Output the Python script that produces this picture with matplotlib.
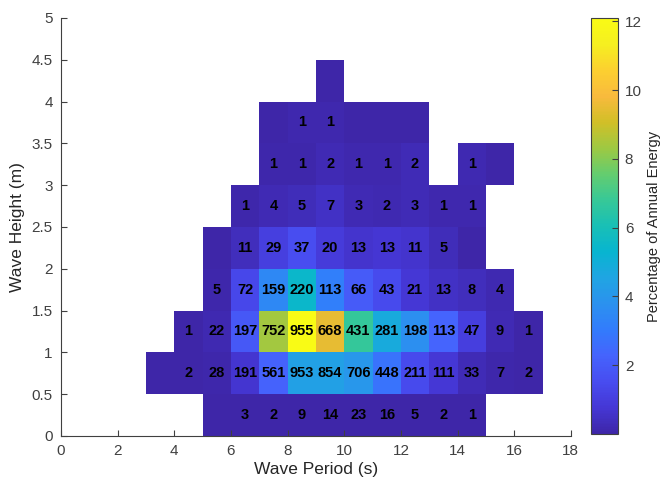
import matplotlib
matplotlib.use("Agg")
import matplotlib.pyplot as plt
import numpy as np
from matplotlib.colors import LinearSegmentedColormap


# bin edges of the scatter table
PERIOD_EDGES = np.arange(0, 19, 1)        # wave period, s
HEIGHT_EDGES = np.arange(0, 5.01, 0.5)    # wave height, m

# one entry per height bin (bottom to top): first period bin of the row,
# number of occurrences and % of annual energy (0 = shaded cell without count,
# nan = empty cell)
row_start = [5, 3, 4, 5, 5, 6, 7, 7, 9]
row_counts = [
    [0, 3, 2, 9, 14, 23, 16, 5, 2, 1],
    [0, 2, 28, 191, 561, 953, 854, 706, 448, 211, 111, 33, 7, 2],
    [1, 22, 197, 752, 955, 668, 431, 281, 198, 113, 47, 9, 1],
    [5, 72, 159, 220, 113, 66, 43, 21, 13, 8, 4],
    [0, 11, 29, 37, 20, 13, 13, 11, 5, 0],
    [1, 4, 5, 7, 3, 2, 3, 1, 1],
    [1, 1, 2, 1, 1, 2, 0, 1, 0],
    [0, 1, 1, 0, 0, 0],
    [0],
]
row_energy = [
    [0, 0.001, 0.001, 0.005, 0.008, 0.014, 0.011, 0.004, 0.002, 0.001],
    [0, 0.005, 0.08, 0.67, 2.26, 4.35, 4.35, 3.98, 2.76, 1.42, 0.80, 0.26, 0.06, 0.02],
    [0.01, 0.18, 1.91, 8.41, 12.10, 9.46, 6.74, 4.82, 3.69, 2.27, 1.02, 0.21, 0.03],
    [0.08, 1.37, 3.48, 5.46, 3.14, 2.02, 1.44, 0.77, 0.51, 0.34, 0.18],
    [0, 0.35, 1.05, 1.52, 0.92, 0.66, 0.72, 0.66, 0.33, 0],
    [0.05, 0.22, 0.31, 0.48, 0.23, 0.17, 0.27, 0.10, 0.10],
    [0.08, 0.09, 0.19, 0.11, 0.12, 0.25, np.nan, 0.15, 0],
    [0, 0.11, 0.13, 0, 0, 0],
    [0],
]

# MATLAB parula, sampled
PARULA = [
    (0.2422, 0.1504, 0.6603), (0.2706, 0.2147, 0.8364), (0.2813, 0.3006, 0.9414),
    (0.2699, 0.3892, 0.9906), (0.1963, 0.4847, 0.9892), (0.1687, 0.5703, 0.9359),
    (0.1248, 0.6459, 0.8883), (0.0297, 0.7082, 0.8163), (0.0964, 0.7500, 0.7120),
    (0.2161, 0.7843, 0.5923), (0.3909, 0.8029, 0.4354), (0.6174, 0.7876, 0.2612),
    (0.8203, 0.7498, 0.1535), (0.9728, 0.7298, 0.2394), (0.9892, 0.8136, 0.1885),
    (0.9628, 0.9373, 0.1265), (0.9769, 0.9839, 0.0805),
]
TEXT_GREY = "#404040"

plt.rcParams["font.family"] = ["Liberation Sans", "DejaVu Sans"]


def build_grid():
    n_rows = len(HEIGHT_EDGES) - 1
    n_cols = len(PERIOD_EDGES) - 1
    energy = np.full((n_rows, n_cols), np.nan)
    counts = np.zeros((n_rows, n_cols), dtype=int)
    for i, (start, cnt, eng) in enumerate(zip(row_start, row_counts, row_energy)):
        energy[i, start:start + len(eng)] = eng
        counts[i, start:start + len(cnt)] = cnt
    return energy, counts


def main() -> None:
    energy, counts = build_grid()
    parula = LinearSegmentedColormap.from_list("parula", PARULA)

    fig = plt.figure(figsize=(6.63, 4.86), dpi=100)
    ax = fig.add_axes([0.092, 0.103, 0.769, 0.860])
    mesh = ax.pcolormesh(PERIOD_EDGES, HEIGHT_EDGES, np.ma.masked_invalid(energy),
                         cmap=parula, vmin=0, vmax=np.nanmax(energy))

    t_mid = (PERIOD_EDGES[:-1] + PERIOD_EDGES[1:]) / 2
    h_mid = (HEIGHT_EDGES[:-1] + HEIGHT_EDGES[1:]) / 2
    for i in range(counts.shape[0]):
        for j in range(counts.shape[1]):
            if counts[i, j] > 0:
                ax.text(t_mid[j], h_mid[i], str(counts[i, j]), ha="center", va="center",
                        fontsize=10.5, weight="bold", color="black")

    ax.set_xlim(0, 18)
    ax.set_ylim(0, 5)
    ax.set_xticks(np.arange(0, 19, 2))
    ax.set_yticks(np.arange(0, 5.01, 0.5))
    ax.set_yticklabels(["0", "0.5", "1", "1.5", "2", "2.5", "3", "3.5", "4", "4.5", "5"])
    ax.tick_params(direction="in", length=4, labelsize=11, colors=TEXT_GREY, pad=6)
    for side in ("top", "right"):
        ax.spines[side].set_visible(False)
    for side in ("left", "bottom"):
        ax.spines[side].set_color(TEXT_GREY)
    ax.set_xlabel("Wave Period (s)", fontsize=12.5, color="#262626", labelpad=3)
    ax.set_ylabel("Wave Height (m)", fontsize=12.5, color="#262626", labelpad=5)

    cax = fig.add_axes([0.891, 0.107, 0.041, 0.856])
    cb = fig.colorbar(mesh, cax=cax)
    cb.set_ticks(np.arange(2, 13, 2))
    cax.tick_params(direction="in", length=4, labelsize=11, colors=TEXT_GREY, pad=5)
    cb.outline.set_edgecolor(TEXT_GREY)
    cb.set_label("Percentage of Annual Energy", fontsize=10.5, color="#262626", labelpad=4)

    fig.savefig("out.png", dpi=100)
    plt.close(fig)


if __name__ == "__main__":
    main()
